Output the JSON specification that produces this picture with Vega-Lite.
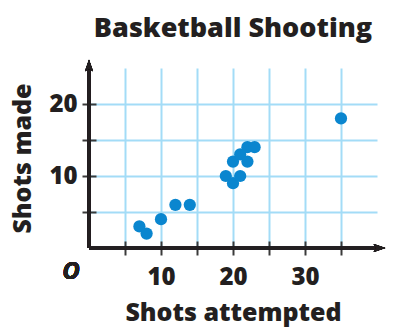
{
  "$schema": "https://vega.github.io/schema/vega-lite/v6.json",
  "autosize": "none",
  "width": 288,
  "height": 180,
  "padding": {"left": 89, "top": 68, "right": 17, "bottom": 80},
  "background": "white",
  "config": {
    "view": {"stroke": null},
    "font": "Open Sans",
    "axis": {"labelFont": "Open Sans", "titleFont": "Open Sans"}
  },
  "title": {
    "text": "Basketball Shooting",
    "fontSize": 27,
    "fontWeight": 800,
    "font": "Open Sans",
    "color": "#231f20",
    "anchor": "middle",
    "offset": 17
  },
  "data": {
    "values": [
      {"attempted": 7, "made": 3},
      {"attempted": 8, "made": 2},
      {"attempted": 10, "made": 4},
      {"attempted": 12, "made": 6},
      {"attempted": 14, "made": 6},
      {"attempted": 19, "made": 10},
      {"attempted": 20, "made": 9},
      {"attempted": 21, "made": 10},
      {"attempted": 20, "made": 12},
      {"attempted": 21, "made": 13},
      {"attempted": 22, "made": 12},
      {"attempted": 22, "made": 14},
      {"attempted": 23, "made": 14},
      {"attempted": 35, "made": 18}
    ]
  },
  "layer": [
    {
      "mark": {"type": "point", "filled": true, "opacity": 0},
      "encoding": {
        "x": {
          "field": "attempted", "type": "quantitative",
          "scale": {"domain": [0, 40], "nice": false, "zero": true},
          "axis": {
            "values": [5, 10, 15, 20, 25, 30, 35],
            "grid": true, "gridColor": "#a3dcf7", "gridWidth": 2, "gridOpacity": 1,
            "domain": false, "offset": -7, "tickSize": 14, "tickColor": "#3a3a3a", "tickWidth": 2,
            "labelExpr": "datum.value % 10 === 0 ? datum.label : ''",
            "labelFontSize": 24, "labelFontWeight": 800, "labelColor": "#231f20", "labelPadding": 10,
            "title": "Shots attempted", "titleFontSize": 25, "titleFontWeight": 800, "titleColor": "#231f20", "titlePadding": 11
          }
        },
        "y": {
          "field": "made", "type": "quantitative",
          "scale": {"domain": [0, 25], "nice": false, "zero": true},
          "axis": {
            "values": [5, 10, 15, 20],
            "grid": true, "gridColor": "#a3dcf7", "gridWidth": 2, "gridOpacity": 1,
            "domain": false, "offset": -7, "tickSize": 14, "tickColor": "#3a3a3a", "tickWidth": 2,
            "labelExpr": "datum.value % 10 === 0 ? datum.label : ''",
            "labelFontSize": 24, "labelFontWeight": 800, "labelColor": "#231f20", "labelPadding": 5,
            "title": "Shots made", "titleFontSize": 25, "titleFontWeight": 800, "titleColor": "#231f20", "titlePadding": 13
          }
        }
      }
    },
    {
      "mark": {"type": "rule", "color": "#231f20", "strokeWidth": 2.7},
      "encoding": {
        "x": {"datum": 0, "type": "quantitative"},
        "y": {"datum": 0, "type": "quantitative"},
        "x2": {"datum": 40.6},
        "y2": {"datum": 0}
      }
    },
    {
      "mark": {"type": "rule", "color": "#231f20", "strokeWidth": 2.7},
      "encoding": {
        "x": {"datum": 0, "type": "quantitative"},
        "y": {"datum": 0, "type": "quantitative"},
        "x2": {"datum": 0},
        "y2": {"datum": 25.6}
      }
    },
    {
      "mark": {"type": "point", "filled": true, "color": "#231f20", "opacity": 1, "size": 150,
               "shape": "M1,0L-0.9,0.65L-0.45,0L-0.9,-0.65Z"},
      "encoding": {
        "x": {"datum": 40.3, "type": "quantitative"},
        "y": {"datum": 0, "type": "quantitative"}
      }
    },
    {
      "mark": {"type": "point", "filled": true, "color": "#231f20", "opacity": 1, "size": 150,
               "shape": "M0,-1L0.65,0.9L0,0.45L-0.65,0.9Z"},
      "encoding": {
        "x": {"datum": 0, "type": "quantitative"},
        "y": {"datum": 25.3, "type": "quantitative"}
      }
    },
    {
      "mark": {"type": "text", "text": "O", "font": "Open Sans", "fontSize": 24, "fontWeight": 700,
               "fontStyle": "italic", "color": "#231f20", "dx": -18, "dy": 24},
      "encoding": {
        "x": {"datum": 0, "type": "quantitative"},
        "y": {"datum": 0, "type": "quantitative"}
      }
    },
    {
      "mark": {"type": "circle", "color": "#0a86cf", "opacity": 1, "size": 150},
      "encoding": {
        "x": {"field": "attempted", "type": "quantitative"},
        "y": {"field": "made", "type": "quantitative"}
      }
    }
  ]
}
